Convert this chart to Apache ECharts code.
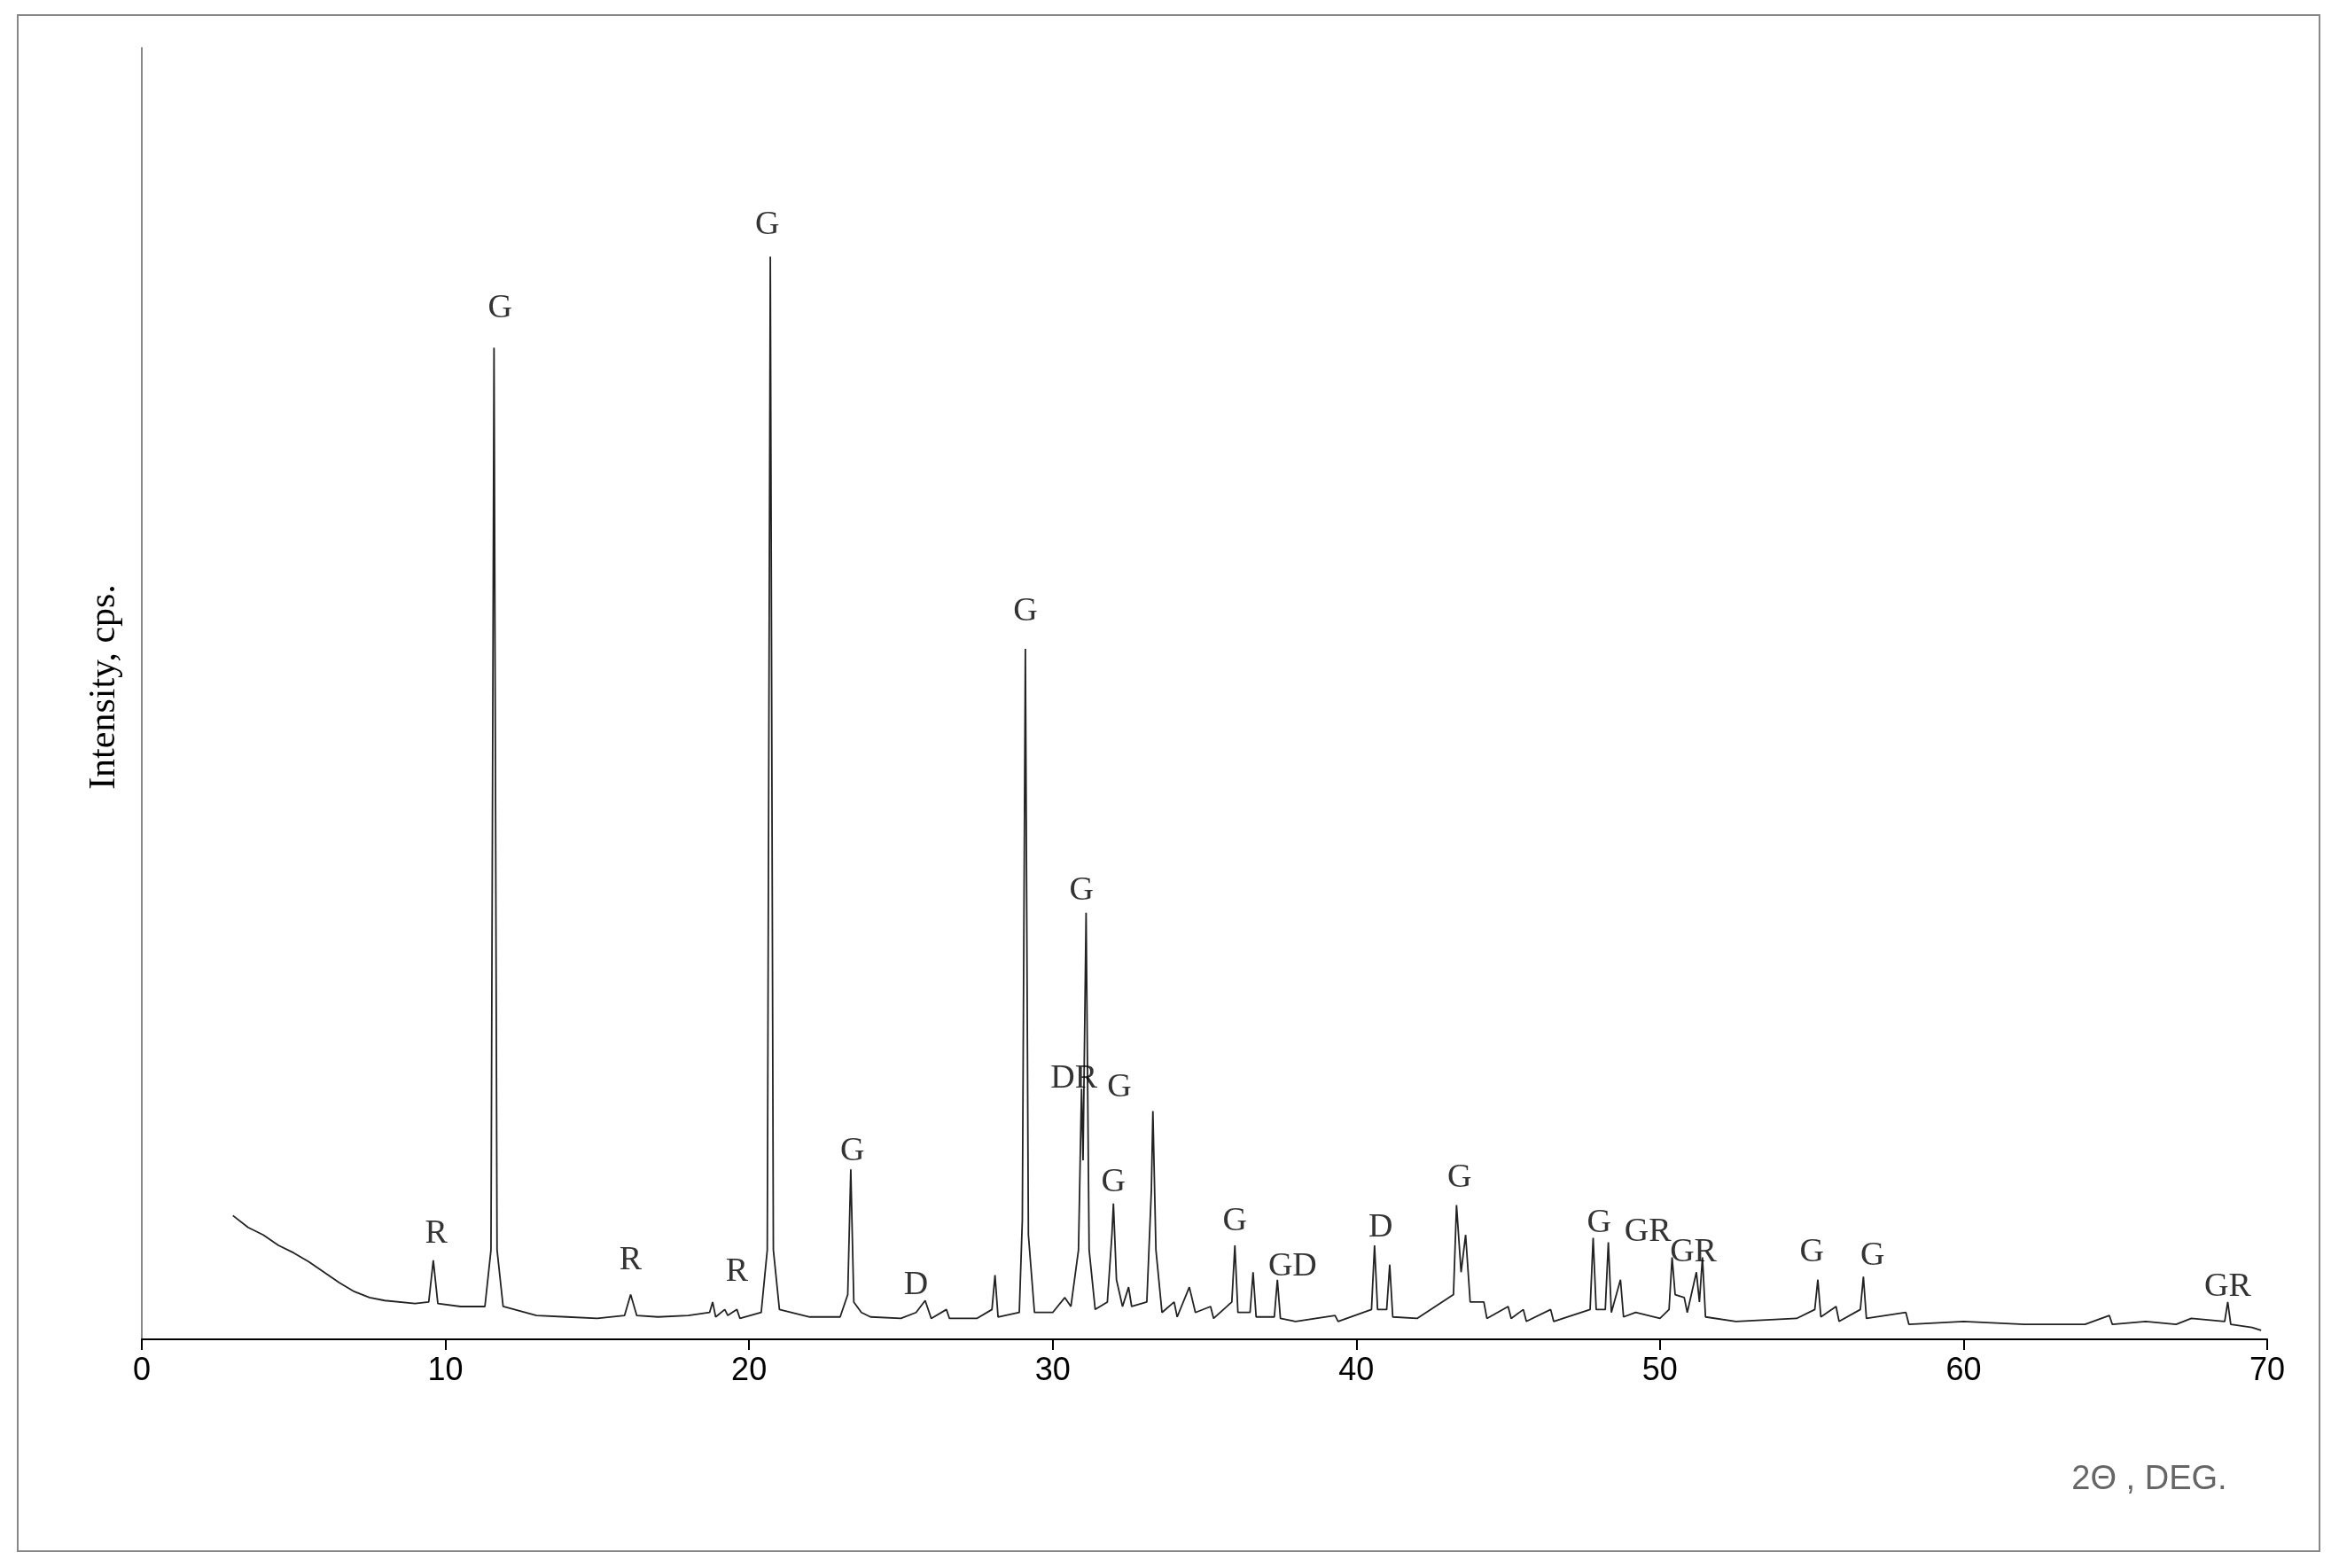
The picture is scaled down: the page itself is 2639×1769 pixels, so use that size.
<!DOCTYPE html>
<html><head><meta charset="utf-8">
<script src="https://cdn.jsdelivr.net/npm/echarts@6/dist/echarts.min.js"></script>
<style>html,body{margin:0;padding:0;background:#fff}#c{width:2639px;height:1769px}</style>
</head><body><div id="c"></div>
<script>
const pattern = [[3,83],[3.5,75],[4,70],[4.5,63],[5,58],[5.5,52],[6,45],[6.5,38],[7,32],[7.5,28],[8,26],[9,24],[9.45,25],[9.6,53],[9.75,24],[10.5,22],[11.3,22],[11.5,60],[11.6,665],[11.7,60],[11.9,22],[13,16],[14,15],[15,14],[15.9,16],[16.1,30],[16.3,16],[17,15],[18,16],[18.7,18],[18.8,25],[18.9,15],[19.2,20],[19.3,16],[19.6,20],[19.7,14],[20.4,18],[20.6,60],[20.7,726],[20.8,60],[21,20],[22,15],[23,15],[23.25,30],[23.35,114],[23.45,25],[23.7,18],[24,15],[25,14],[25.5,18],[25.8,26],[26,14],[26.5,20],[26.6,14],[27.5,14],[28,20],[28.1,43],[28.2,15],[28.9,18],[29,80],[29.1,463],[29.2,70],[29.4,18],[30,18],[30.4,28],[30.6,22],[30.85,60],[30.95,168],[31.0,120],[31.1,286],[31.2,60],[31.4,20],[31.8,25],[31.95,70],[32.0,91],[32.1,40],[32.3,22],[32.5,35],[32.6,22],[33.1,25],[33.25,100],[33.3,153],[33.4,60],[33.6,18],[34,25],[34.1,15],[34.5,35],[34.7,18],[35.2,22],[35.3,14],[35.9,25],[36.0,63],[36.1,18],[36.5,18],[36.6,45],[36.7,15],[37.3,15],[37.4,40],[37.5,14],[38,12],[39.3,16],[39.4,12],[40.5,20],[40.6,63],[40.7,20],[41.0,20],[41.1,50],[41.2,15],[42,14],[43.2,30],[43.3,90],[43.45,45],[43.6,70],[43.75,25],[44.2,25],[44.3,14],[45,22],[45.1,14],[45.5,20],[45.6,12],[46.4,20],[46.5,12],[47.7,20],[47.8,68],[47.9,20],[48.2,20],[48.3,65],[48.4,18],[48.7,40],[48.8,15],[49.2,18],[50,14],[50.3,20],[50.4,55],[50.5,30],[50.8,28],[50.9,18],[51.2,45],[51.3,25],[51.4,55],[51.5,15],[52.5,12],[54.5,14],[55.1,20],[55.2,40],[55.3,15],[55.8,22],[55.9,12],[56.6,20],[56.7,42],[56.8,14],[58.1,18],[58.2,10],[60,12],[62,10],[64,10],[64.8,16],[64.9,10],[66,12],[67,10],[67.5,14],[68.6,12],[68.7,25],[68.8,10],[69.5,8],[69.8,6]];
const phaseLabels = [[9.7,71,'R'],[11.8,691,'G'],[16.1,53,'R'],[19.6,45,'R'],[20.6,747,'G'],[23.4,126,'G'],[25.5,36,'D'],[29.1,488,'G'],[30.95,301,'G'],[30.7,175,'DR'],[32.2,169,'G'],[32.0,105,'G'],[36.0,79,'G'],[37.9,49,'GD'],[40.8,75,'D'],[43.4,108,'G'],[48.0,78,'G'],[49.6,72,'GR'],[51.1,58,'GR'],[55.0,58,'G'],[57.0,56,'G'],[68.7,35,'GR']];
const xTicks = [0,10,20,30,40,50,60,70];
const chart = echarts.init(document.getElementById('c'));
chart.setOption({
  animation:false,
  grid:{left:160,right:81,top:54,bottom:258},
  xAxis:{type:'value',min:xTicks[0],max:xTicks[xTicks.length-1],interval:10,
    axisLine:{lineStyle:{color:'#000',width:2}},
    axisTick:{show:true,inside:false,length:12,lineStyle:{color:'#000',width:2}},
    axisLabel:{fontSize:36,color:'#000',fontFamily:'Liberation Sans',margin:18},
    splitLine:{show:false}},
  yAxis:{type:'value',min:0,max:866,
    axisLine:{show:true,lineStyle:{color:'#888',width:2}},
    axisTick:{show:false},axisLabel:{show:false},splitLine:{show:false}},
  series:[
    {type:'line',data:pattern,symbol:'none',lineStyle:{color:'#222',width:1.8},z:2},
    {type:'scatter',symbolSize:0,data:phaseLabels.map(l=>({value:[l[0],l[1]],name:l[2]})),
      label:{show:true,position:'inside',formatter:p=>p.name,fontSize:38,color:'#000',fontFamily:'Liberation Serif'},z:3}
  ],
  graphic:[
    {type:'rect',shape:{x:20,y:17,width:2597,height:1733},style:{fill:'none',stroke:'#888',lineWidth:2}},
    {type:'text',x:118,y:775,rotation:Math.PI/2,style:{text:'Intensity, cps.',font:'42px "Liberation Serif"',fill:'#000',align:'center',verticalAlign:'middle'}},
    {type:'text',x:2425,y:1670,style:{text:'2Θ , DEG.',font:'38px "Liberation Sans"',fill:'#666',align:'center',verticalAlign:'middle'}}
  ]
});
</script></body></html>
